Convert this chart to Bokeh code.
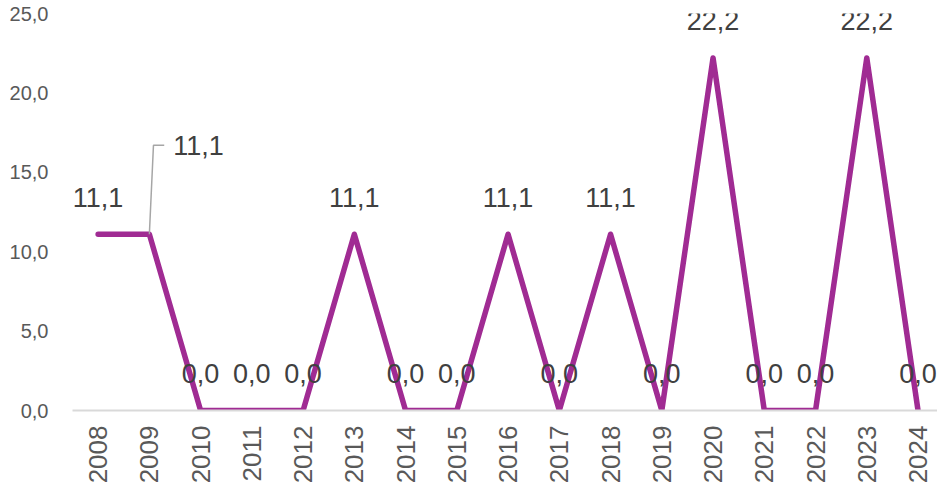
import math
from bokeh.plotting import figure
from bokeh.models import ColumnDataSource, FixedTicker, Range1d, LabelSet
from bokeh.core.properties import value
from bokeh.embed import file_html
from bokeh.resources import INLINE

years = ["2008", "2009", "2010", "2011", "2012", "2013", "2014", "2015", "2016",
         "2017", "2018", "2019", "2020", "2021", "2022", "2023", "2024"]
values = [11.1, 11.1, 0.0, 0.0, 0.0, 11.1, 0.0, 0.0, 11.1, 0.0, 11.1, 0.0, 22.2, 0.0, 0.0, 22.2, 0.0]
y_ticks = [0, 5, 10, 15, 20, 25]
y_tick_labels = ["0,0", "5,0", "10,0", "15,0", "20,0", "25,0"]

LINE_COLOR = "#A02B93"
FONT = "Liberation Sans"

xs = list(range(len(years)))
labels = [f"{v:.1f}".replace(".", ",") for v in values]

p = figure(width=937, height=487, output_backend="svg", toolbar_location=None,
           x_range=Range1d(-0.5, 16.38), y_range=Range1d(0, 25),
           min_border_left=72, min_border_right=0, min_border_top=13, min_border_bottom=77)
p.outline_line_color = None
p.xgrid.grid_line_color = None
p.ygrid.grid_line_color = None
p.background_fill_color = "white"
p.border_fill_color = "white"

# x axis
p.xaxis.ticker = FixedTicker(ticks=xs)
p.xaxis.major_label_overrides = {i: y for i, y in enumerate(years)}
p.xaxis.major_label_orientation = math.pi / 2
p.xaxis.major_tick_line_color = None
p.xaxis.major_tick_out = 0
p.xaxis.major_tick_in = 0
p.xaxis.minor_tick_line_color = None
p.xaxis.axis_line_color = "#d9d9d9"
p.xaxis.axis_line_width = 2
p.xaxis.major_label_text_font = FONT
p.xaxis.major_label_text_font_size = "26px"
p.xaxis.major_label_text_color = "#595959"
p.xaxis.major_label_standoff = 15

# y axis
p.yaxis.ticker = FixedTicker(ticks=y_ticks)
p.yaxis.major_label_overrides = {t: l for t, l in zip(y_ticks, y_tick_labels)}
p.yaxis.axis_line_color = None
p.yaxis.major_tick_line_color = None
p.yaxis.major_tick_out = 0
p.yaxis.major_tick_in = 0
p.yaxis.minor_tick_line_color = None
p.yaxis.major_label_text_font = FONT
p.yaxis.major_label_text_font_size = "20px"
p.yaxis.major_label_text_color = "#595959"
p.yaxis.major_label_standoff = 24

src = ColumnDataSource(dict(x=xs, y=values, label=labels))
p.line("x", "y", source=src, line_color=LINE_COLOR, line_width=5.5,
       line_join="round", line_cap="round")

# data labels (all except 2009, which is moved with a leader line)
idx_moved = 1
main = ColumnDataSource(dict(
    x=[x for i, x in enumerate(xs) if i != idx_moved],
    y=[v for i, v in enumerate(values) if i != idx_moved],
    label=[l for i, l in enumerate(labels) if i != idx_moved]))
p.add_layout(LabelSet(x="x", y="y", text="label", source=main, y_offset=37,
                      text_align="center", text_baseline="middle",
                      text_font=value(FONT), text_font_size=value("27px"),
                      text_color="#404040"))

# moved label for 2009 with leader line (offsets in data units)
lead_dx1, lead_dy = 0.08, 5.6
lead_dx2 = 0.29
mx, my = xs[idx_moved], values[idx_moved]
p.line([mx, mx + lead_dx1, mx + lead_dx2], [my, my + lead_dy, my + lead_dy],
       line_color="#a6a6a6", line_width=1.5)
moved = ColumnDataSource(dict(x=[mx + lead_dx2], y=[my + lead_dy], label=[labels[idx_moved]]))
p.add_layout(LabelSet(x="x", y="y", text="label", source=moved, x_offset=9,
                      text_align="left", text_baseline="middle",
                      text_font=value(FONT), text_font_size=value("27px"),
                      text_color="#404040"))

open("out.html", "w").write(file_html(p, INLINE))
